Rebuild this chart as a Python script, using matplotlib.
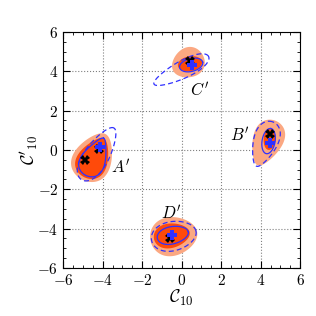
import numpy as np
import matplotlib.pyplot as plt
from matplotlib.ticker import MultipleLocator

plt.rcParams["mathtext.fontset"] = "cm"
plt.rcParams["font.family"] = "serif"
plt.rcParams["font.serif"] = ["DejaVu Serif"]

# ── region labels ───────────────────────────────────────────────────────────
labels = ["A'", "B'", "C'", "D'"]
label_x = [-3.1, 2.95, 0.9, -0.5]
label_y = [-0.95, 0.7, 3.0, -3.25]

# ── best-fit points ─────────────────────────────────────────────────────────
black_x = [-4.9, -4.18, 4.45, 0.4, -0.6]
black_y = [-0.52, 0.03, 0.82, 4.5, -4.5]
blue_x = [-4.13, 4.45, 0.5, -0.5]
blue_y = [0.17, 0.35, 4.3, -4.3]

# ── contour shapes, one entry per region (A', B', C', D') ──────────────────
# (centre x, centre y, half-length, half-width, angle in deg, taper)
light_cx = [-4.45, 4.3, 0.32, -0.4]
light_cy = [-0.35, 0.35, 4.42, -4.38]
light_a = [1.3, 1.22, 0.85, 1.2]
light_b = [0.95, 0.74, 0.75, 0.98]
light_ang = [63, 68, 28, 10]
light_k = [-0.3, 0.35, 0.15, -0.15]

dark_cx = [-4.45, 4.45, 0.42, -0.5]
dark_cy = [-0.4, 0.55, 4.38, -4.35]
dark_a = [1.1, 0.55, 0.62, 0.92]
dark_b = [0.75, 0.3, 0.38, 0.62]
dark_ang = [63, 85, 10, 10]
dark_k = [-0.35, 0.0, 0.0, -0.15]

solid_cx = [-4.4, 4.4, 0.48, -0.45]
solid_cy = [-0.35, 0.45, 4.32, -4.33]
solid_a = [1.05, 0.65, 0.6, 0.8]
solid_b = [0.58, 0.33, 0.33, 0.44]
solid_ang = [65, 80, 14, 12]
solid_k = [-0.5, 0.0, 0.0, -0.1]

dash_cx = [-4.25, 4.2, -0.02, -0.4]
dash_cy = [-0.2, 0.3, 4.05, -4.37]
dash_a = [1.55, 1.2, 1.55, 1.15]
dash_b = [0.62, 0.6, 0.44, 0.74]
dash_ang = [58, 70, 27, 12]
dash_k = [-0.25, 0.35, 0.2, -0.1]

LIGHT = "#fba882"
DARK = "#ff4a0a"
BLUE = "#3030ff"


def blob(cx, cy, a, b, ang, k):
    t = np.linspace(0, 2 * np.pi, 200)
    u = a * np.cos(t)
    v = b * np.sin(t) * (1 + k * np.cos(t))
    th = np.deg2rad(ang)
    x = cx + u * np.cos(th) - v * np.sin(th)
    y = cy + u * np.sin(th) + v * np.cos(th)
    return x, y


fig = plt.figure(figsize=(3.16, 3.16), dpi=100)
ax = fig.add_axes([0.2, 0.152, 0.75, 0.747])

for i in range(4):
    ax.fill(*blob(light_cx[i], light_cy[i], light_a[i], light_b[i], light_ang[i], light_k[i]),
            color=LIGHT, lw=0, zorder=2)
for i in range(4):
    ax.fill(*blob(dark_cx[i], dark_cy[i], dark_a[i], dark_b[i], dark_ang[i], dark_k[i]),
            color=DARK, lw=0, zorder=3)
for i in range(4):
    ax.plot(*blob(solid_cx[i], solid_cy[i], solid_a[i], solid_b[i], solid_ang[i], solid_k[i]),
            color=BLUE, lw=0.9, zorder=4)
    ax.plot(*blob(dash_cx[i], dash_cy[i], dash_a[i], dash_b[i], dash_ang[i], dash_k[i]),
            color=BLUE, lw=0.9, ls=(0, (4, 2.5)), zorder=4)

ax.plot(black_x, black_y, ls="none", marker="X", ms=7, color="black",
        mew=0.0, zorder=5)
ax.plot(blue_x, blue_y, ls="none", marker="P", ms=6.5, color=BLUE, mew=0, zorder=6)

for lab, lx, ly in zip(labels, label_x, label_y):
    ax.text(lx, ly, f"${lab}$", fontsize=12, ha="center", va="center", zorder=7)

ax.set_xlim(-6, 6)
ax.set_ylim(-6, 6)
ticks = [-6, -4, -2, 0, 2, 4, 6]
ax.set_xticks(ticks)
ax.set_yticks(ticks)
ax.set_xticklabels([f"${t}$" for t in ticks], fontsize=11)
ax.set_yticklabels([f"${t}$" for t in ticks], fontsize=11)
ax.xaxis.set_minor_locator(MultipleLocator(0.5))
ax.yaxis.set_minor_locator(MultipleLocator(0.5))
ax.tick_params(which="both", direction="in", top=True, right=True)
ax.tick_params(which="major", length=5, width=0.8)
ax.tick_params(which="minor", length=2.5, width=0.6)
ax.grid(True, which="major", ls=":", color="gray", lw=0.8, zorder=0)
ax.set_axisbelow(True)
ax.set_xlabel(r"$\mathcal{C}_{10}$", fontsize=13, labelpad=0)
ax.set_ylabel(r"$\mathcal{C}'_{10}$", fontsize=13, labelpad=-2)

fig.savefig("out.png", dpi=100)
